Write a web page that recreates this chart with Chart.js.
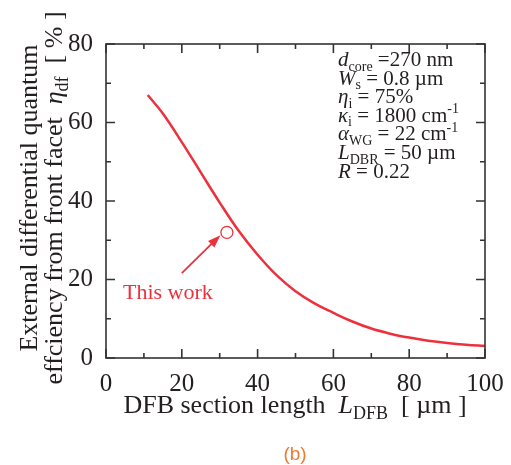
<!doctype html>
<html lang="en">
  <head>
    <meta charset="utf-8">
    <title>DFB section length vs efficiency</title>
    <style>
      body { margin: 0; background: #fff; }
      .wrap { width: 511px; height: 465px; }
    </style>
  </head>
  <body>
    <div class="wrap">
      <canvas id="myChart"></canvas>
    </div>

    <script src="https://cdn.jsdelivr.net/npm/chart.js/dist/chart.umd.min.js"></script>
    <script>
      // curve
      const lengthDFB = [11, 15, 20, 25, 30, 35, 40, 45, 50, 55, 60, 65, 70, 75, 80, 85, 90, 95, 100];
      const efficiency = [67.0, 62.3, 55.0, 47.3, 39.6, 32.4, 26.3, 21.1, 17.0, 13.9, 11.5, 9.3, 7.5, 6.2, 5.2, 4.4, 3.85, 3.4, 3.05];
      // measured point ("This work")
      const workX = [31.9];
      const workY = [32.0];
      const xTicks = [0, 20, 40, 60, 80, 100];
      const yTicks = [0, 20, 40, 60, 80];

      const RED = '#ec313d';
      const INK = '#231f20';
      const SERIF = '"Liberation Serif", "DejaVu Serif", serif';

      // parameter list, top right
      const paramLines = [
        [{t: 'd', i: 1}, {t: 'core', sub: 1}, {t: ' =270 nm'}],
        [{t: 'W', i: 1}, {t: 's', sub: 1}, {t: ' = 0.8 \u00b5m'}],
        [{t: '\u03b7', i: 1}, {t: 'i', sub: 1}, {t: ' = 75%'}],
        [{t: '\u03ba', i: 1}, {t: 'i', sub: 1}, {t: ' = 1800 cm'}, {t: '-1', sup: 1}],
        [{t: '\u03b1', i: 1}, {t: 'WG', sub: 1}, {t: ' = 22 cm'}, {t: '-1', sup: 1}],
        [{t: 'L', i: 1}, {t: 'DBR', sub: 1}, {t: ' = 50 \u00b5m'}],
        [{t: 'R', i: 1}, {t: ' = 0.22'}]
      ];

      function segFont(s, size) {
        const sz = (s.sub || s.sup) ? Math.round(size * 0.68) : size;
        return (s.i ? 'italic ' : '') + sz + 'px ' + SERIF;
      }

      function richWidth(ctx, segs, size) {
        let w = 0;
        segs.forEach(s => { ctx.font = segFont(s, size); w += ctx.measureText(s.t).width; });
        return w;
      }

      function drawRich(ctx, x, y, segs, size, align) {
        let cx = x;
        if (align === 'center') cx = x - richWidth(ctx, segs, size) / 2;
        ctx.textBaseline = 'alphabetic';
        ctx.textAlign = 'left';
        segs.forEach(s => {
          ctx.font = segFont(s, size);
          let dy = 0;
          if (s.sub) dy = size * 0.22;
          if (s.sup) dy = -size * 0.42;
          ctx.fillText(s.t, cx, y + dy);
          cx += ctx.measureText(s.t).width;
        });
      }

      const framePlugin = {
        id: 'frame',
        afterDraw(chart) {
          const ctx = chart.ctx;
          const a = chart.chartArea;
          const xs = chart.scales.x, ys = chart.scales.y;
          ctx.save();

          // box
          ctx.strokeStyle = '#333';
          ctx.lineWidth = 1.6;
          ctx.strokeRect(a.left, a.top, a.right - a.left, a.bottom - a.top);

          // inward ticks on all four sides
          ctx.beginPath();
          for (let v = 0; v <= 100; v += 10) {
            const px = xs.getPixelForValue(v);
            const len = v % 20 === 0 ? 9 : 5;
            ctx.moveTo(px, a.bottom); ctx.lineTo(px, a.bottom - len);
            ctx.moveTo(px, a.top); ctx.lineTo(px, a.top + len);
          }
          for (let v = 0; v <= 80; v += 10) {
            const py = ys.getPixelForValue(v);
            const len = v % 20 === 0 ? 9 : 5;
            ctx.moveTo(a.left, py); ctx.lineTo(a.left + len, py);
            ctx.moveTo(a.right, py); ctx.lineTo(a.right - len, py);
          }
          ctx.stroke();

          // axis titles
          ctx.fillStyle = INK;
          drawRich(ctx, 295, 413, [
            {t: 'DFB section length  '}, {t: 'L', i: 1}, {t: 'DFB', sub: 1}, {t: '  [ \u00b5m ]'}
          ], 26, 'center');

          const cy = (a.top + a.bottom) / 2 - 3;
          ctx.save();
          ctx.translate(37, cy);
          ctx.rotate(-Math.PI / 2);
          drawRich(ctx, 0, 0, [{t: 'External differential quantum'}], 26, 'center');
          ctx.restore();
          ctx.save();
          ctx.translate(62, cy);
          ctx.rotate(-Math.PI / 2);
          drawRich(ctx, 0, 0, [
            {t: 'effciency from front facet  '}, {t: '\u03b7', i: 1}, {t: 'df', sub: 1}, {t: '  [ % ]'}
          ], 26, 'center');
          ctx.restore();

          // parameter block
          paramLines.forEach((line, k) => drawRich(ctx, 338, 66 + k * 18.6, line, 21));

          // arrow to measured point
          const x0 = xs.getPixelForValue(20), y0 = ys.getPixelForValue(21.6);
          const x1 = xs.getPixelForValue(30.2), y1 = ys.getPixelForValue(31.3);
          const ang = Math.atan2(y1 - y0, x1 - x0);
          ctx.strokeStyle = RED;
          ctx.fillStyle = RED;
          ctx.lineWidth = 1.8;
          ctx.beginPath();
          ctx.moveTo(x0, y0);
          ctx.lineTo(x1 - 10 * Math.cos(ang), y1 - 10 * Math.sin(ang));
          ctx.stroke();
          ctx.beginPath();
          ctx.moveTo(x1, y1);
          ctx.lineTo(x1 - 13 * Math.cos(ang) + 4.5 * Math.sin(ang), y1 - 13 * Math.sin(ang) - 4.5 * Math.cos(ang));
          ctx.lineTo(x1 - 13 * Math.cos(ang) - 4.5 * Math.sin(ang), y1 - 13 * Math.sin(ang) + 4.5 * Math.cos(ang));
          ctx.closePath();
          ctx.fill();

          ctx.font = '22px ' + SERIF;
          ctx.textAlign = 'left';
          ctx.fillText('This work', 123, 299);

          // panel label
          ctx.fillStyle = '#ef7b2f';
          ctx.font = '19px "Liberation Sans", Arial, sans-serif';
          ctx.textAlign = 'center';
          ctx.fillText('(b)', 295, 460);
          ctx.restore();
        }
      };

      const config = {
        type: 'line',
        data: {
          datasets: [{
            label: 'efficiency',
            data: lengthDFB.map((x, i) => ({x: x, y: efficiency[i]})),
            borderColor: RED,
            borderWidth: 2.5,
            pointRadius: 0,
            tension: 0.4,
            fill: false
          }, {
            label: 'This work',
            type: 'scatter',
            data: workX.map((x, i) => ({x: x, y: workY[i]})),
            pointRadius: 6,
            pointBackgroundColor: '#fff',
            pointBorderColor: RED,
            pointBorderWidth: 1.3
          }]
        },
        options: {
          responsive: true,
          maintainAspectRatio: false,
          animation: false,
          layout: { padding: { top: 44, right: 26, left: 0, bottom: 0 } },
          plugins: { legend: { display: false }, tooltip: { enabled: false } },
          scales: {
            x: {
              type: 'linear', min: 0, max: 100,
              afterFit(scale) { scale.height = 107; },
              grid: { display: false },
              border: { display: false },
              afterBuildTicks(scale) { scale.ticks = xTicks.map(v => ({value: v})); },
              ticks: { padding: 3, color: INK, font: { family: SERIF, size: 25 }, maxRotation: 0 }
            },
            y: {
              type: 'linear', min: 0, max: 80,
              afterFit(scale) { scale.width = 106; },
              grid: { display: false },
              border: { display: false },
              afterBuildTicks(scale) { scale.ticks = yTicks.map(v => ({value: v})); },
              ticks: { padding: 5, color: INK, font: { family: SERIF, size: 25 } }
            }
          }
        },
        plugins: [framePlugin]
      };

      new Chart(document.getElementById('myChart'), config);
    </script>
  </body>
</html>
